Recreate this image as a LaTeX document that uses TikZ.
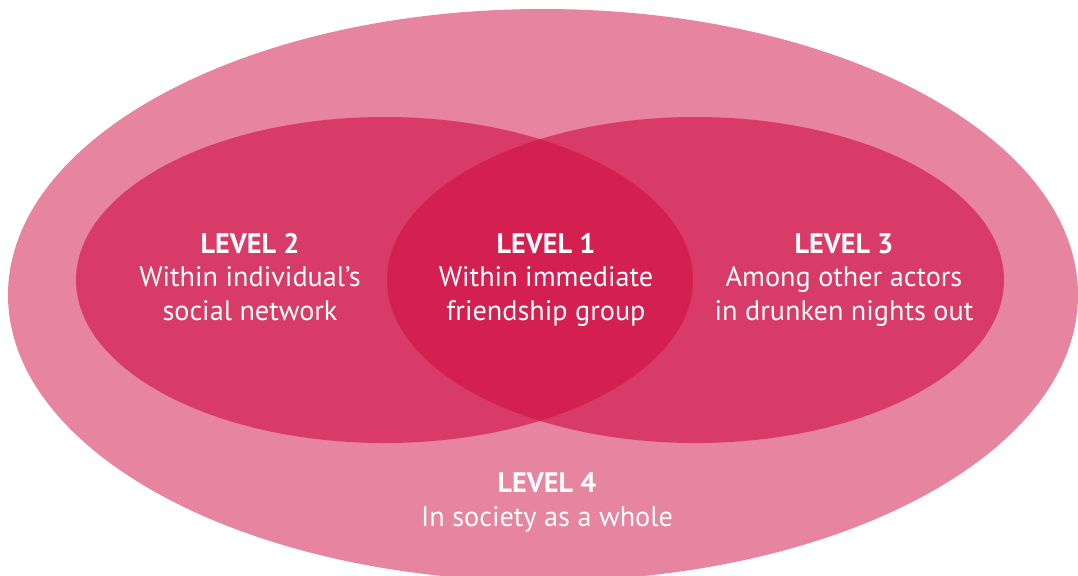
\documentclass[tikz,border=0pt]{standalone}
\usepackage{fontspec}
\setmainfont{PT Sans}
\definecolor{outerpink}{HTML}{E7849F}
\definecolor{midpink}{HTML}{D93B69}
\definecolor{corepink}{HTML}{D42050}
\begin{document}
\begin{tikzpicture}[x=0.5pt,y=-0.5pt,
  label/.style={text=white,align=center,font=\fontsize{14.1pt}{16.6pt}\selectfont,inner sep=0pt}]
\useasboundingbox (0,0) rectangle (1078,575);
% level 4: society
\fill[outerpink] (543,295) ellipse [x radius=535, y radius=286];
% level 2 and level 3
\fill[midpink] (384.5,280) ellipse [x radius=308.5, y radius=163];
\fill[midpink] (695.5,280) ellipse [x radius=308.5, y radius=163];
% level 1: overlap of the two
\begin{scope}
  \clip (384.5,280) ellipse [x radius=308.5, y radius=163];
  \fill[corepink] (695.5,280) ellipse [x radius=308.5, y radius=163];
\end{scope}
% labels (base anchor sits on the last line)
\node[label,anchor=base] (l2) at (250,320) {\textbf{LEVEL 2}\\Within individual’s\\social network};
\node[label,anchor=base] (l1) at (546,320) {\textbf{LEVEL 1}\\Within immediate\\friendship group};
\node[label,anchor=base] (l3) at (844,320) {\textbf{LEVEL 3}\\Among other actors\\in drunken nights out};
\node[label,anchor=base] (l4) at (547,526) {\textbf{LEVEL 4}\\In society as a whole};
\end{tikzpicture}
\end{document}
